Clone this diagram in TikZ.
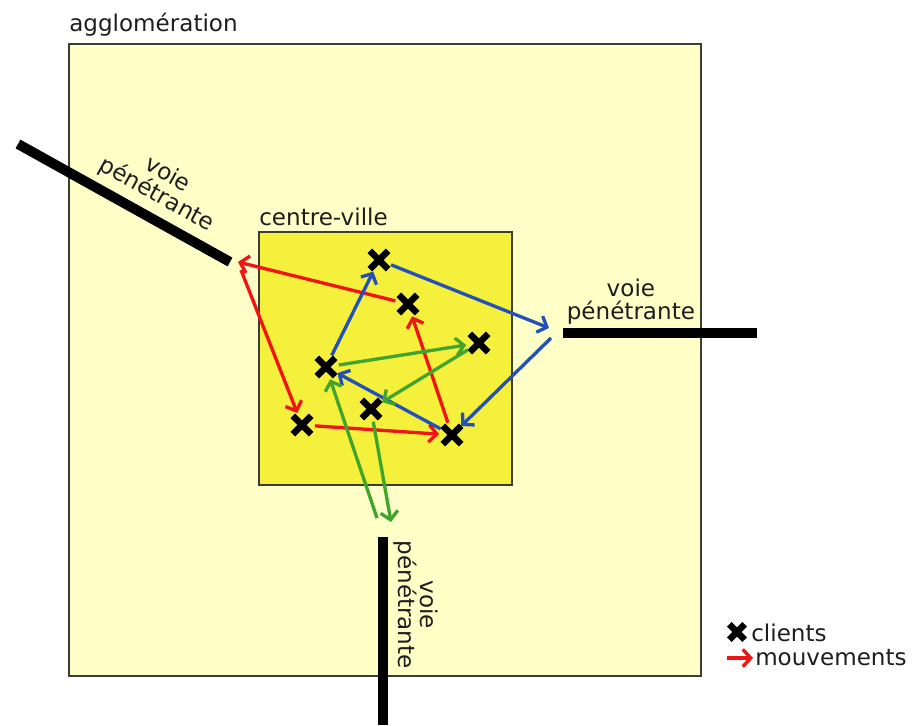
\documentclass[tikz,border=0pt]{standalone}
\usepackage{fontspec}
\setmainfont{DejaVu Sans}
\usetikzlibrary{arrows.meta}
\definecolor{agglo}{RGB}{255,255,200}
\definecolor{centre}{RGB}{245,240,60}
\definecolor{rouge}{RGB}{240,20,20}
\definecolor{bleu}{RGB}{35,80,185}
\definecolor{vert}{RGB}{65,165,45}
\definecolor{bord}{RGB}{60,60,55}
\definecolor{texte}{RGB}{30,30,30}
\tikzstyle{zone} = [draw=bord, line width=1.5pt]
\tikzstyle{voie} = [line width=7.5pt, black]
\tikzstyle{etiquette} = [text=texte, inner sep=0pt, align=center, font=\fontsize{17.3}{17}\selectfont]
\tikzstyle{client} = [circle, inner sep=0pt, minimum size=19pt]
\tikzstyle{croix} = [line width=4.8pt, black]
\tikzstyle{mvt} = [line width=2.5pt, -{Straight Barb[length=6pt,width=13pt]}]

\begin{document}
\begin{tikzpicture}[x=0.75pt,y=-0.75pt]
\useasboundingbox (0,0) rectangle (913,725);
\fill[white] (0,0) rectangle (913,725);
\draw[zone, fill=agglo] (69,44) rectangle (701,676);
\node[etiquette, anchor=base west] (agglotxt) at (69,31) {agglomération};
\draw[zone, fill=centre] (259,232) rectangle (512,485);
\node[etiquette, anchor=base west] (centretxt) at (259,225) {centre-ville};
% voies
\coordinate (vO1) at (18,144);
\coordinate (vO2) at (230,262);
\coordinate (vE1) at (563,333);
\coordinate (vE2) at (757,333);
\coordinate (vS1) at (383,537);
\coordinate (vS2) at (383,725);
\draw[voie] (vO1) -- (vO2) node[etiquette, pos=0.6, sloped, above=5pt] (voieO) {voie\\pénétrante};
\draw[voie] (vE1) -- (vE2) node[etiquette, pos=0.35, above=3pt] (voieE) {voie\\pénétrante};
\draw[voie] (vS1) -- (vS2) node[etiquette, pos=0.36, sloped, above=4pt] (voieS) {voie\\pénétrante};
% clients
\node[client] (c1) at (379,260) {};
\node[client] (c2) at (408,304) {};
\node[client] (c3) at (479,343) {};
\node[client] (c4) at (326,367) {};
\node[client] (c5) at (371,409) {};
\node[client] (c6) at (302,425) {};
\node[client] (c7) at (452,435) {};
\foreach \c in {c1,c2,c3,c4,c5,c6,c7}
  \draw[croix] (\c.north west) -- (\c.south east) (\c.north east) -- (\c.south west);
% points d'entree
\coordinate (pOa) at (238,262);
\coordinate (pOb) at (241,270);
\coordinate (pEa) at (549,328);
\coordinate (pEb) at (551,338);
\coordinate (pSa) at (377,518);
\coordinate (pSb) at (391,522);
% mouvements
\draw[mvt, rouge] (c2) -- (pOa);
\draw[mvt, rouge] (pOb) -- (c6);
\draw[mvt, rouge] (c6) -- (c7);
\draw[mvt, rouge] (c7) -- (c2);
\draw[mvt, bleu] (c4) -- (c1);
\draw[mvt, bleu] (c1) -- (pEa);
\draw[mvt, bleu] (pEb) -- (c7);
\draw[mvt, bleu] (c7) -- (c4);
\draw[mvt, vert] (c4) -- (c3);
\draw[mvt, vert] (c3) -- (c5);
\draw[mvt, vert] (c5) -- (pSb);
\draw[mvt, vert] (pSa) -- (c4);
% legende
\node[client, minimum size=16pt] (lclient) at (737,632) {};
\draw[croix] (lclient.north west) -- (lclient.south east) (lclient.north east) -- (lclient.south west);
\node[etiquette, anchor=west] (lclients) at (751,633) {clients};
\coordinate (lm1) at (727,658);
\coordinate (lm2) at (753,658);
\draw[mvt, rouge] (lm1) -- (lm2);
\node[etiquette, anchor=west] (lmvt) at (755,658) {mouvements};
\end{tikzpicture}
\end{document}
